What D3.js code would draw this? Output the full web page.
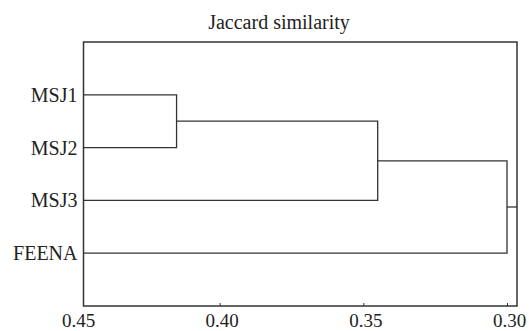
<!DOCTYPE html>
<html>
<head>
<meta charset="utf-8">
<script src="https://cdn.jsdelivr.net/npm/d3@7"></script>
<style>
  body { margin: 0; background: #fff; }
  text { font-family: "Liberation Serif", "DejaVu Serif", serif; fill: #222; }
</style>
</head>
<body>
<svg id="chart" width="529" height="331"></svg>
<script>
    // leaves, top to bottom
    var leafNames = ["MSJ1", "MSJ2", "MSJ3", "FEENA"];
    // merge steps: left child, right child, similarity at join
    var clusterNames = ["C1", "C2", "C3"];
    var clusterLeft = ["MSJ1", "C1", "C2"];
    var clusterRight = ["MSJ2", "MSJ3", "FEENA"];
    var clusterHeight = [0.415, 0.345, 0.300];
    var tickValues = [0.45, 0.40, 0.35, 0.30];
    var titleText = "Jaccard similarity";

    var svg = d3.select("#chart");
    var box = {left: 83.5, right: 517, top: 42, bottom: 306};
    var lineColor = "#333";

    // similarity axis runs backwards
    var x = d3.scaleLinear().domain([0.45, 0.30]).range([76, 507]);
    var y = d3.scalePoint().domain(leafNames).range([box.top, box.bottom]).padding(1);

    //节点位置
    var pos = {};
    leafNames.forEach(function (name) {
        pos[name] = {x: box.left, y: y(name)};
    });

    var g = svg.append("g")
        .attr("fill", "none")
        .attr("stroke", lineColor)
        .attr("stroke-width", 1.3);

    clusterNames.forEach(function (name, i) {
        var a = pos[clusterLeft[i]], b = pos[clusterRight[i]];
        var cx = x(clusterHeight[i]);
        g.append("path")
            .attr("d", "M" + a.x + "," + a.y + "H" + cx + "V" + b.y + "H" + b.x);
        pos[name] = {x: cx, y: (a.y + b.y) / 2};
    });

    // root stub to the frame
    var root = pos[clusterNames[clusterNames.length - 1]];
    g.append("path").attr("d", "M" + root.x + "," + root.y + "H" + box.right);

    // frame
    svg.append("rect")
        .attr("x", box.left)
        .attr("y", box.top)
        .attr("width", box.right - box.left)
        .attr("height", box.bottom - box.top)
        .attr("fill", "none")
        .attr("stroke", lineColor)
        .attr("stroke-width", 1.5);

    // leaf labels
    svg.append("g")
        .selectAll("text")
        .data(leafNames)
        .enter()
        .append("text")
        .attr("x", box.left - 6)
        .attr("y", function (d) { return y(d) + 7; })
        .attr("text-anchor", "end")
        .attr("font-size", 20)
        .text(function (d) { return d; });

    // bottom axis
    var axis = d3.axisBottom(x)
        .tickValues(tickValues)
        .tickFormat(d3.format(".2f"))
        .tickSizeInner(-3)
        .tickSizeOuter(0)
        .tickPadding(8);
    var ax = svg.append("g")
        .attr("transform", "translate(0," + box.bottom + ")")
        .call(axis);
    ax.select(".domain").remove();
    ax.selectAll(".tick line")
        .attr("stroke", lineColor)
        .attr("display", function (d) { return d === 0.45 ? "none" : null; });
    ax.selectAll(".tick text")
        .attr("font-size", 19)
        .attr("font-family", "Liberation Serif, serif")
        .attr("fill", "#222")
        .attr("dx", 2);

    svg.append("text")
        .attr("x", 279)
        .attr("y", 29)
        .attr("text-anchor", "middle")
        .attr("font-size", 20)
        .text(titleText);
</script>
</body>
</html>
